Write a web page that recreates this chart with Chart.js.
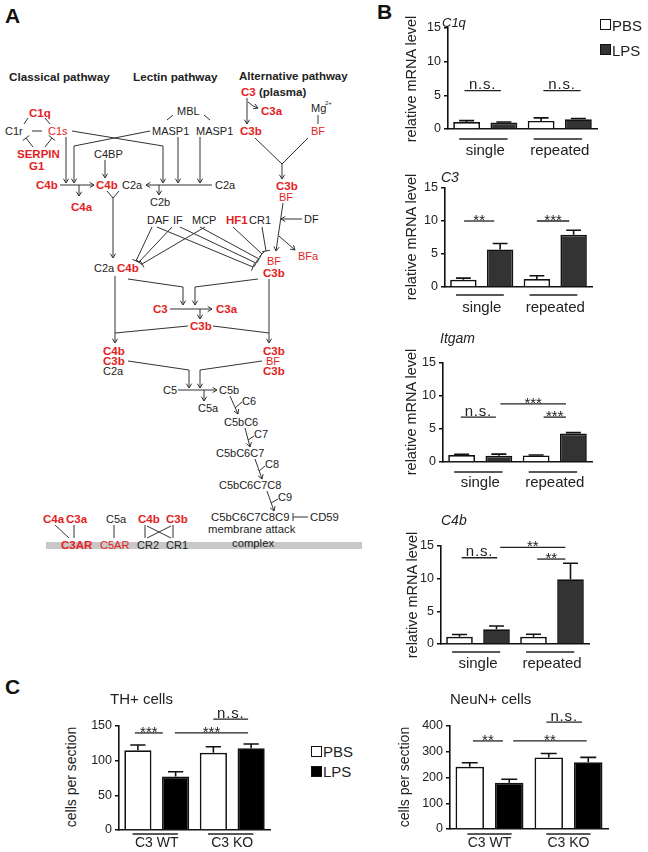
<!DOCTYPE html>
<html><head><meta charset="utf-8">
<script src="https://cdn.jsdelivr.net/npm/chart.js@4.4.1/dist/chart.umd.min.js"></script>
<style>
html,body{margin:0;padding:0;background:#fff}
body{width:648px;height:852px;position:relative;overflow:hidden;font-family:"Liberation Sans",Arial,sans-serif;color:#222}
canvas{position:absolute}
.t{position:absolute;white-space:nowrap;line-height:1}
.yt{position:absolute;white-space:nowrap;line-height:1;transform:translate(-50%,-50%) rotate(-90deg)}
.box{position:absolute;box-sizing:border-box;border:1.5px solid #111}
svg{position:absolute;left:0;top:0}
</style></head><body>
<svg id="diag" width="380" height="560"></svg>
<script>
// ---------------- DATA ----------------
const groupsB = ["single", "repeated"];
const groupsC = ["C3 WT", "C3 KO"];
const seriesNames = ["PBS", "LPS"];

const c1qPBS = [1.05, 1.2],  c1qPBSerr = [0.2, 0.45];
const c1qLPS = [0.95, 1.45], c1qLPSerr = [0.1, 0.12];
const c3PBS = [1.1, 1.2],    c3PBSerr = [0.25, 0.5];
const c3LPS = [5.7, 7.9],    c3LPSerr = [0.9, 0.7];
const itgamPBS = [1.06, 1.0], itgamPBSerr = [0.1, 0.05];
const itgamLPS = [0.95, 4.3], itgamLPSerr = [0.25, 0.15];
const c4bPBS = [1.1, 1.1],   c4bPBSerr = [0.35, 0.4];
const c4bLPS = [2.25, 9.9],  c4bLPSerr = [0.5, 2.45];
const thPBS = [115, 111.5],  thPBSerr = [7.5, 8.5];
const thLPS = [77, 118],     thLPSerr = [7, 6];
const neunPBS = [242, 278],  neunPBSerr = [15, 15];
const neunLPS = [180, 259],  neunLPSerr = [13, 19];

const ticksB = [0, 5, 10, 15];
const ticksTH = [0, 50, 100, 150];
const ticksNeuN = [0, 100, 200, 300, 400];

// significance annotations (category-index units)
const sigC1q = [{from:-0.28,to:0.21,y:5.7,label:"n.s."},{from:0.78,to:1.28,y:5.7,label:"n.s."}];
const sigC3 = [{from:-0.24,to:0.17,y:10.0,label:"**"},{from:0.75,to:1.19,y:10.0,label:"***"}];
const sigItgam = [{from:-0.26,to:0.21,y:6.8,label:"n.s."},{from:0.27,to:1.15,y:8.8,label:"***"},{from:0.85,to:1.15,y:6.8,label:"***"}];
const sigC4b = [{from:-0.22,to:0.26,y:13.2,label:"n.s."},{from:0.3,to:1.18,y:14.8,label:"**"},{from:0.8,to:1.18,y:13.0,label:"**"}];
const sigTH = [{from:-0.29,to:0.08,y:140,label:"***"},{from:0.24,to:1.21,y:140,label:"***"},{from:0.75,to:1.21,y:160,label:"n.s."}];
const sigNeuN = [{from:-0.21,to:0.17,y:342,label:"**"},{from:0.3,to:1.23,y:342,label:"**"},{from:0.72,to:1.17,y:415,label:"n.s."}];

// ---------------- helpers ----------------
const FONT = '"Liberation Sans", Arial, sans-serif';
const RED = '#e31e24', BLK = '#222';
function txt(s, x, y, size, opt) {
  opt = opt || {};
  const d = document.createElement('div');
  d.className = 't';
  d.textContent = s;
  d.style.left = x + 'px';
  d.style.top = (y - size / 2) + 'px';
  d.style.fontSize = size + 'px';
  if (opt.bold) d.style.fontWeight = 'bold';
  if (opt.italic) d.style.fontStyle = 'italic';
  if (opt.color) d.style.color = opt.color;
  document.body.appendChild(d);
  return d;
}
function ytitle(s, cx, cy, size) {
  const d = document.createElement('div');
  d.className = 'yt'; d.textContent = s;
  d.style.left = cx + 'px'; d.style.top = cy + 'px'; d.style.fontSize = size + 'px';
  document.body.appendChild(d);
}
function box(x, y, w, h, fill) {
  const d = document.createElement('div');
  d.className = 'box';
  d.style.left = x + 'px'; d.style.top = y + 'px'; d.style.width = w + 'px'; d.style.height = h + 'px';
  d.style.background = fill;
  document.body.appendChild(d);
}

// ---------------- diagram (panel A) ----------------
const diagText = [
 ["Classical pathway",9,76,BLK,1,11.7],["Lectin pathway",133,76,BLK,1,11.7],["Alternative pathway",239,76,BLK,1,11.5],
 ["C3",241,92,RED,1,11.5],["(plasma)",259,92,BLK,1,11.5],
 ["MBL",177,111,BLK,0,11],["C1q",29,113,RED,1,11.5],["Mg",311,108,BLK,0,11],["2+",325,103,BLK,0,6],
 ["C3a",261,111,RED,1,11.5],
 ["C1r",5,131,BLK,0,11],["C1s",48,131,RED,0,11],["MASP1",152,131,BLK,0,11],["MASP1",196,131,BLK,0,11],
 ["C3b",240,131,RED,1,11.5],["BF",311,131,RED,0,11],
 ["SERPIN",17,154,RED,1,11.5],["G1",29,166,RED,1,11.5],["C4BP",94,154,BLK,0,11],
 ["C4b",36,185,RED,1,11.5],["C4b",96,185,RED,1,11.5],["C2a",122,185,BLK,0,11],["C2a",215,185,BLK,0,11],
 ["C4a",71,207,RED,1,11.5],["C2b",150,202,BLK,0,11],
 ["C3b",276,186,RED,1,11.5],["BF",279,197,RED,0,11],
 ["DAF",147,220,BLK,0,11],["IF",173,220,BLK,0,11],["MCP",192,220,BLK,0,11],["HF1",226,220,RED,1,11.5],["CR1",249,220,BLK,0,11],
 ["DF",304,219,BLK,0,11],["BFa",298,256,RED,0,11],
 ["BF",267,261,RED,0,11],["C3b",263,273,RED,1,11.5],
 ["C2a",94,268,BLK,0,11],["C4b",117,268,RED,1,11.5],
 ["C3",153,309,RED,1,11.5],["C3a",216,309,RED,1,11.5],["C3b",190,326,RED,1,11.5],
 ["C4b",103,351,RED,1,11.5],["C3b",103,361,RED,1,11.5],["C2a",103,371,BLK,0,11],
 ["C3b",263,351,RED,1,11.5],["BF",266,361,RED,0,11],["C3b",263,371,RED,1,11.5],
 ["C5",163,390,BLK,0,11],["C5b",219,390,BLK,0,11],["C5a",198,408,BLK,0,11],
 ["C6",242,401,BLK,0,11],["C5bC6",224,422,BLK,0,11],["C7",254,434,BLK,0,11],["C5bC6C7",216,453,BLK,0,11],
 ["C8",265,464,BLK,0,11],["C5bC6C7C8",219,485,BLK,0,11],["C9",278,497,BLK,0,11],
 ["C5bC6C7C8C9",211,517,BLK,0,11.3],["CD59",310,517,BLK,0,11.3],
 ["membrane attack",208,529,BLK,0,11.3],["complex",232,543,BLK,0,11.3],
 ["C4a",43,519,RED,1,11.5],["C3a",66,519,RED,1,11.5],["C5a",106,519,BLK,0,11],["C4b",138,519,RED,1,11.5],["C3b",166,519,RED,1,11.5],
 ["C3AR",61,545,RED,1,11.5],["C5AR",100,545,RED,0,11],["CR2",137,545,BLK,0,11],["CR1",166,545,BLK,0,11]
];
const diagLines = [
 [[28,118,24,124],''],[[45,118,50,124],''],[[32,131,42,131],''],
 [[33,147,26,138],'t'],[[45,147,52,138],'t'],
 [[173,115,167,120],''],[[204,115,210,120],''],
 [[72,131,163,146,163,183],'a'],[[150,131,74,146,74,183],'a'],
 [[66,137,66,183],'a'],[[178,137,178,183],'a'],[[200,137,200,183],'a'],
 [[105,160,105,178],'a'],
 [[60,185,94,185],'a'],[[79,185,79,196],'a'],
 [[212,185,146,185],'a'],[[159,185,159,195],'a'],
 [[107,191,113,198],''],[[119,191,113,198],''],[[113,198,113,258],'a'],
 [[247,98,247,124],'a'],[[248,102,253,106,258,108],'a'],
 [[318,115,318,124],''],
 [[255,138,282,164],''],[[308,138,282,164],''],[[282,164,282,179],'a'],
 [[283,203,276,251],'a'],[[302,219,281,219],'a'],[[279,236,295,250],'a'],
 [[152,227,136,261],'t'],[[172,227,139,262],'t'],[[205,227,142,264],'t'],
 [[157,227,253,267],'t'],[[180,227,256,263],'t'],[[200,227,259,259],'t'],[[233,227,262,254],'t'],[[262,227,266,251],'t'],
 [[115,276,115,343],'a'],
 [[128,279,183,287,183,305],'a'],[[258,279,195,287,195,305],'a'],
 [[269,279,269,343],'a'],
 [[170,309,212,309],'a'],[[200,309,200,319],'a'],
 [[115,333,188,326],''],[[213,326,269,333],''],
 [[128,361,189,370,189,388],'a'],[[262,361,200,370,200,388],'a'],
 [[178,390,217,390],'a'],[[204,390,204,401],'a'],
 [[230,396,238,414],'a'],[[242,402,235,408],''],
 [[245,428,250,447],'a'],[[254,436,248,440],''],
 [[255,459,262,479],'a'],[[265,466,259,471],''],
 [[267,491,274,511],'a'],[[278,499,271,503],''],
 [[308,517,293,517],'t'],
 [[55,525,69,538],''],[[74,525,74,538],''],[[114,525,114,538],''],
 [[145,525,145,538],''],[[173,525,173,538],''],[[147,526,171,538],''],[[171,526,147,538],'']
];
(function drawDiagram(){
  const svg = document.getElementById('diag');
  let html = '<rect x="46" y="542" width="316" height="7" fill="#c8c8c8"/>';
  diagLines.forEach(([p, end]) => {
    let d = 'M' + p[0] + ' ' + p[1];
    for (let i = 2; i < p.length; i += 2) d += ' L' + p[i] + ' ' + p[i+1];
    const n = p.length;
    const x1 = p[n-4], y1 = p[n-3], x2 = p[n-2], y2 = p[n-1];
    const a = Math.atan2(y2 - y1, x2 - x1);
    if (end === 'a') {
      const L = 5, h = 0.55;
      d += ' M' + (x2 - L*Math.cos(a-h)).toFixed(1) + ' ' + (y2 - L*Math.sin(a-h)).toFixed(1) +
           ' L' + x2 + ' ' + y2 +
           ' L' + (x2 - L*Math.cos(a+h)).toFixed(1) + ' ' + (y2 - L*Math.sin(a+h)).toFixed(1);
    } else if (end === 't') {
      const L = 4, px = -Math.sin(a), py = Math.cos(a);
      d += ' M' + (x2 + L*px).toFixed(1) + ' ' + (y2 + L*py).toFixed(1) + ' L' + (x2 - L*px).toFixed(1) + ' ' + (y2 - L*py).toFixed(1);
    }
    html += '<path d="' + d + '" fill="none" stroke="#333" stroke-width="1"/>';
  });
  diagText.forEach(([s, x, y, c, b, sz]) => {
    html += '<text x="' + x + '" y="' + y + '" dominant-baseline="central" font-family=\'' + FONT + '\' font-size="' + sz + '" fill="' + c + '"' + (b ? ' font-weight="bold"' : '') + '>' + s + '</text>';
  });
  svg.innerHTML = html;
})();

// ---------------- chart plugins ----------------
const errPlugin = {
  id: 'errbars',
  afterDatasetsDraw(chart) {
    const ctx = chart.ctx, ys = chart.scales.y;
    chart.data.datasets.forEach((ds, di) => {
      const meta = chart.getDatasetMeta(di);
      meta.data.forEach((bar, i) => {
        const yTop = ys.getPixelForValue(ds.data[i] + ds.err[i]);
        const half = bar.width * 0.28;
        ctx.save();
        ctx.strokeStyle = '#111'; ctx.lineWidth = 1.6;
        ctx.beginPath();
        ctx.moveTo(bar.x, bar.y); ctx.lineTo(bar.x, yTop);
        ctx.moveTo(bar.x - half, yTop); ctx.lineTo(bar.x + half, yTop);
        ctx.stroke();
        ctx.restore();
      });
    });
  }
};
const annotPlugin = {
  id: 'annot',
  afterDraw(chart, args, opts) {
    const ctx = chart.ctx, xs = chart.scales.x, ys = chart.scales.y;
    ctx.save();
    ctx.strokeStyle = '#222'; ctx.fillStyle = '#222'; ctx.lineWidth = 1.3;
    ctx.textAlign = 'center'; ctx.textBaseline = 'alphabetic';
    (opts.sig || []).forEach(s => {
      const xa = xs.getPixelForValue(s.from), xb = xs.getPixelForValue(s.to), y = ys.getPixelForValue(s.y);
      ctx.beginPath(); ctx.moveTo(xa, y); ctx.lineTo(xb, y); ctx.stroke();
      ctx.font = '15px ' + FONT;
      if (s.label === 'n.s.') {
        try { ctx.letterSpacing = '0.8px'; } catch (e) {}
        ctx.fillText(s.label, (xa + xb) / 2, y - 1.5);
        try { ctx.letterSpacing = '0px'; } catch (e) {}
      } else {
        ctx.fillText(s.label, (xa + xb) / 2, y + 4);
      }
    });
    const g = opts.group;
    if (g) {
      ctx.lineWidth = 1.5;
      chart.data.labels.forEach((l, i) => {
        const xa = xs.getPixelForValue(i + g.from), xb = xs.getPixelForValue(i + g.to);
        const y = ys.bottom + g.offset;
        ctx.beginPath(); ctx.moveTo(xa, y); ctx.lineTo(xb, y); ctx.stroke();
      });
    }
    ctx.restore();
  }
};

function makeChart(c) {
  const left = c.x0 - 40, top = c.yTop - 32, right = c.x1 + 8, bottom = c.bottom;
  const cv = document.createElement('canvas');
  cv.width = right - left; cv.height = bottom - top;
  cv.style.left = left + 'px'; cv.style.top = top + 'px';
  cv.style.width = (right - left) + 'px'; cv.style.height = (bottom - top) + 'px';
  document.body.appendChild(cv);
  new Chart(cv, {
    type: 'bar',
    data: {
      labels: c.labels,
      datasets: [
        { label: seriesNames[0], data: c.pbs, err: c.pbsErr, backgroundColor: '#fff', borderColor: '#111', borderWidth: 1.7 },
        { label: seriesNames[1], data: c.lps, err: c.lpsErr, backgroundColor: c.lpsColor, borderColor: '#111', borderWidth: 1.7 }
      ]
    },
    options: {
      responsive: false, animation: false, devicePixelRatio: 1,
      layout: { padding: { left: 0, top: c.yTop - top, right: right - c.x1, bottom: 0 } },
      datasets: { bar: { categoryPercentage: 1.0, barPercentage: 0.72, borderSkipped: 'start' } },
      plugins: {
        legend: { display: false }, tooltip: { enabled: false },
        annot: { sig: c.sig, group: c.group }
      },
      scales: {
        x: {
          grid: { display: false, drawOnChartArea: false, drawTicks: false },
          border: { display: true, color: '#111', width: 1.6 },
          ticks: { color: '#222', font: { size: c.xFont, family: FONT }, padding: c.xPad, maxRotation: 0, autoSkip: false },
          afterFit(s) { s.height = bottom - c.yBottom; }
        },
        y: {
          min: 0, max: c.ticks[c.ticks.length - 1],
          afterBuildTicks(s) { s.ticks = c.ticks.map(v => ({ value: v })); },
          grid: { display: true, drawOnChartArea: false, drawTicks: true, tickLength: 4, color: '#111', lineWidth: 1.5 },
          border: { display: true, color: '#111', width: 1.6 },
          ticks: { color: '#222', font: { size: 12.5, family: FONT }, padding: 3 },
          afterFit(s) { s.width = c.x0 - left; }
        }
      }
    },
    plugins: [errPlugin, annotPlugin]
  });
}

const LPSB = '#333', LPSC = '#000';
const grpB = { from: -0.35, to: 0.3 };
makeChart({ x0:448, x1:597, yTop:28, yBottom:129, bottom:162, labels:groupsB, pbs:c1qPBS, pbsErr:c1qPBSerr, lps:c1qLPS, lpsErr:c1qLPSerr, lpsColor:LPSB, ticks:ticksB, sig:sigC1q, group:Object.assign({offset:10}, grpB), xFont:15, xPad:13 });
makeChart({ x0:445, x1:592, yTop:188, yBottom:287, bottom:318, labels:groupsB, pbs:c3PBS, pbsErr:c3PBSerr, lps:c3LPS, lpsErr:c3LPSerr, lpsColor:LPSB, ticks:ticksB, sig:sigC3, group:Object.assign({offset:8}, grpB), xFont:15, xPad:12 });
makeChart({ x0:443, x1:592, yTop:363, yBottom:462, bottom:494, labels:groupsB, pbs:itgamPBS, pbsErr:itgamPBSerr, lps:itgamLPS, lpsErr:itgamLPSerr, lpsColor:LPSB, ticks:ticksB, sig:sigItgam, group:Object.assign({offset:10}, grpB), xFont:15, xPad:12 });
makeChart({ x0:441, x1:589, yTop:546, yBottom:644, bottom:674, labels:groupsB, pbs:c4bPBS, pbsErr:c4bPBSerr, lps:c4bLPS, lpsErr:c4bLPSerr, lpsColor:LPSB, ticks:ticksB, sig:sigC4b, group:Object.assign({offset:8}, grpB), xFont:15, xPad:11 });
makeChart({ x0:119, x1:270, yTop:726, yBottom:830, bottom:852, labels:groupsC, pbs:thPBS, pbsErr:thPBSerr, lps:thLPS, lpsErr:thLPSerr, lpsColor:LPSC, ticks:ticksTH, sig:sigTH, group:{offset:4, from:-0.32, to:0.28}, xFont:14, xPad:5 });
makeChart({ x0:450, x1:608, yTop:726, yBottom:829, bottom:852, labels:groupsC, pbs:neunPBS, pbsErr:neunPBSerr, lps:neunLPS, lpsErr:neunLPSerr, lpsColor:LPSC, ticks:ticksNeuN, sig:sigNeuN, group:{offset:5, from:-0.28, to:0.28}, xFont:14, xPad:6 });

// ---------------- texts ----------------
txt("A", 5, 15, 21, { bold: true, color: '#111' });
txt("B", 377, 11, 21, { bold: true, color: '#111' });
txt("C", 5, 686, 21, { bold: true, color: '#111' });

txt("C1q", 442, 22, 13, { italic: true });
txt("C3", 441, 177, 14, { italic: true });
txt("Itgam", 440, 338, 14, { italic: true });
txt("C4b", 441, 520, 14, { italic: true });
ytitle("relative mRNA level", 411, 79, 14.5);
ytitle("relative mRNA level", 411, 237, 14.5);
ytitle("relative mRNA level", 411, 412, 14.5);
ytitle("relative mRNA level", 412, 595, 14.5);

// legend B
box(600, 19, 11, 11, '#fff'); txt(seriesNames[0], 612, 25, 15);
box(600, 44, 11, 11, LPSB); txt(seriesNames[1], 612, 50, 15);

// panel C
txt("TH+ cells", 110, 698, 15);
txt("NeuN+ cells", 450, 698, 15);
ytitle("cells per section", 71, 777, 14);
ytitle("cells per section", 404, 777, 14);
box(311, 746, 11, 11, '#fff'); txt(seriesNames[0], 323, 751, 15);
box(311, 766, 11, 11, LPSC); txt(seriesNames[1], 323, 771, 15);
</script>
</body></html>
